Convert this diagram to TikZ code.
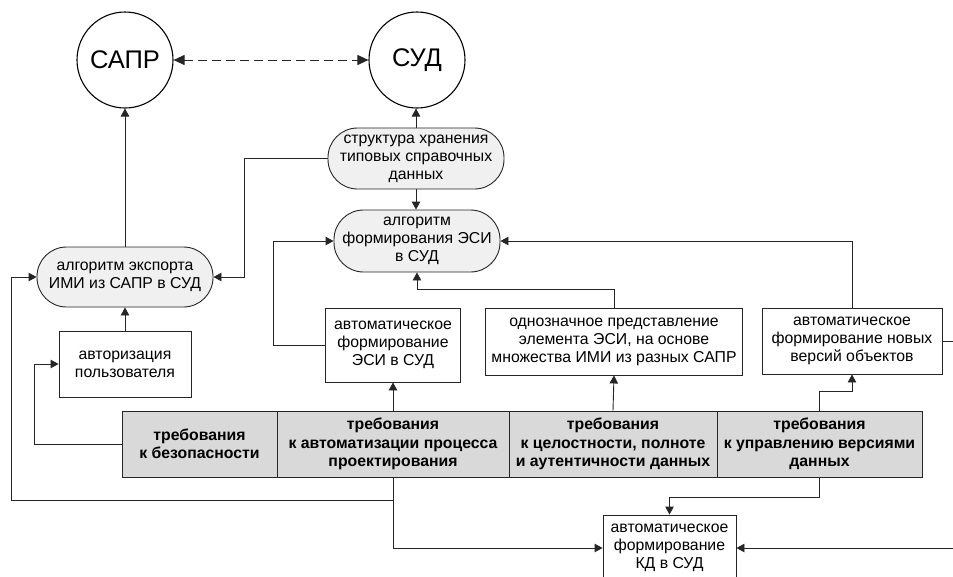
\documentclass[tikz,border=0pt]{standalone}
\usepackage{fontspec}
\setmainfont{Liberation Sans}
\usetikzlibrary{arrows.meta}
\begin{document}
\begin{tikzpicture}[x=1pt,y=-1pt,
  line width=0.9pt,
  every node/.style={font=\fontsize{15.8}{18}\selectfont, align=center, inner sep=1pt},
  conn/.style={draw=black!85, -{Triangle[length=8pt,width=8.5pt]}},
  circ/.style={draw=black, circle, line width=1.1pt, minimum size=96pt, font=\fontsize{25.5}{28}\selectfont},
  stadium/.style={draw=black!85, fill=gray!12, rounded corners=29.5pt},
  plainbox/.style={draw=black!85, fill=white, rectangle},
  reqbox/.style={draw=black!85, fill=gray!30, rectangle, minimum height=66pt, font=\bfseries\fontsize{15.8}{18.3}\selectfont}
]
\useasboundingbox (0,0) rectangle (953,576);

% circles
\node[circ] (sapr) at (125,60) {САПР};
\node[circ] (sud) at (417,60) {СУД};

% rounded nodes
\node[stadium, minimum width=176pt, minimum height=61pt] (struct) at (416,158.5) {структура хранения\\типовых справочных\\данных};
\node[stadium, minimum width=166pt, minimum height=62pt] (form) at (417,241) {алгоритм\\формирования ЭСИ\\в СУД};
\node[stadium, minimum width=176pt, minimum height=60pt] (export) at (125,277) {алгоритм экспорта\\ИМИ из САПР в СУД};

% boxes
\node[plainbox, minimum width=132pt, minimum height=66pt] (auth) at (125,364) {авторизация\\пользователя};
\node[plainbox, minimum width=135pt, minimum height=74pt] (aesi) at (393,345) {автоматическое\\формирование\\ЭСИ в СУД};
\node[plainbox, minimum width=257pt, minimum height=67pt] (odn) at (614,341.5) {однозначное представление\\элемента ЭСИ, на основе\\множества ИМИ из разных САПР};
\node[plainbox, minimum width=180pt, minimum height=66pt] (newv) at (852,341) {автоматическое\\формирование новых\\версий объектов};
\node[plainbox, minimum width=133pt, minimum height=66pt] (kd) at (669.5,548) {автоматическое\\формирование\\КД в СУД};

% requirements
\node[reqbox, minimum width=155pt] (req1) at (199.5,444) {требования\\к безопасности};
\node[reqbox, minimum width=232pt] (req2) at (393,444) {требования\\к автоматизации процесса\\проектирования};
\node[reqbox, minimum width=208pt] (req3) at (613,444) {требования\\к целостности, полноте\\и аутентичности данных};
\node[reqbox, minimum width=205pt] (req4) at (819.5,444) {требования\\к управлению версиями\\данных};

% connectors
\draw[draw=black!85, dash pattern=on 9pt off 5pt, {Triangle[length=11pt,width=10pt]}-{Triangle[length=11pt,width=10pt]}] (sapr) -- (sud);
\draw[conn] (export) -- (sapr);
\draw[conn] (struct.north) -- (struct.north |- sud.south);
\draw[conn] (struct.south) -- (struct.south |- form.north);
\draw[conn] (struct.west) -- ++(-83,0) |- (export.east);
\draw[conn] (auth) -- (export);
\draw[conn] (req1.west) -- ++(-87,0) |- (auth.west);
\draw[conn] (req2.south) -- ++(0,23) -| ([xshift=-25pt]export.west) -- (export.west);
\draw[conn] (req2.south) |- (kd.west);
\draw[conn] (req2.north) -- (aesi.south);
\draw[conn] (aesi.west) -- ++(-52,0) |- (form.west);
\draw[conn] (req3.north) -- (odn.south);
\draw[conn] (odn.north) -- ++(0,-18) -| (form.south);
\draw[conn] (req4.north) -- ++(0,-19) -| (newv.south);
\draw[conn] (newv.north) |- (form.east);
\draw[conn] (req4.south) -- ++(0,20) -| (kd.north);
\draw[conn] (newv.east) -- ++(20,0) |- (kd.east);
\end{tikzpicture}
\end{document}
